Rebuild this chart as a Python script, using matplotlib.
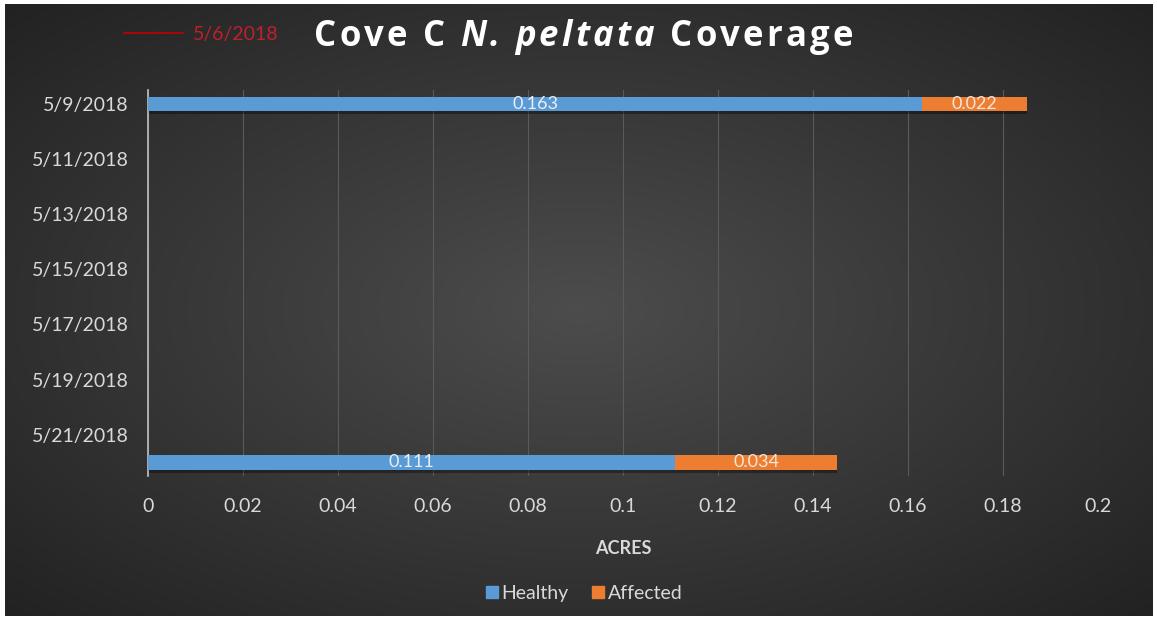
import matplotlib
matplotlib.use("Agg")
import matplotlib.pyplot as plt
import matplotlib.dates as mdates
from matplotlib.lines import Line2D
from matplotlib.patches import Patch
import numpy as np
import datetime as dt

# data
dates = ["2018-05-09", "2018-05-22"]
healthy = [0.163, 0.111]
affected = [0.022, 0.034]
tick_dates = ["2018-05-09", "2018-05-11", "2018-05-13", "2018-05-15",
              "2018-05-17", "2018-05-19", "2018-05-21"]
x_ticks = [0, 0.02, 0.04, 0.06, 0.08, 0.1, 0.12, 0.14, 0.16, 0.18, 0.2]
x_labels = ["0", "0.02", "0.04", "0.06", "0.08", "0.1", "0.12", "0.14", "0.16", "0.18", "0.2"]

plt.rcParams['font.family'] = ['Lato', 'DejaVu Sans']
txt = '#d9d9d9'
blue = '#5b9bd5'
orange = '#ed7d31'

fig = plt.figure(figsize=(11.57, 6.2), dpi=100, facecolor='white')

# dark radial background
bg = fig.add_axes([0.004, 0.006, 0.992, 0.988])
yy, xx = np.mgrid[-1:1:300j, -1:1:600j]
r = np.sqrt((xx * 0.9) ** 2 + (yy * 0.9) ** 2)
shade = 0.30 - 0.17 * np.clip(r, 0, 1.3) / 1.3
bg.imshow(np.dstack([shade, shade, shade]), aspect='auto', extent=[0, 1, 0, 1])
bg.set_axis_off()

ax = fig.add_axes([0.128, 0.232, 0.821, 0.623])
ax.patch.set_alpha(0)

y = mdates.date2num([dt.datetime.strptime(d, "%Y-%m-%d") for d in dates])
h = 0.52

# shadow under bars
tot = [a + b for a, b in zip(healthy, affected)]
ax.barh(y + 0.12, tot, height=h, color='black', alpha=0.35, zorder=2)
ax.barh(y, healthy, height=h, color=blue, zorder=3)
ax.barh(y, affected, left=healthy, height=h, color=orange, zorder=3)

for yi, hv, av in zip(y, healthy, affected):
    ax.text(hv / 2, yi, f"{hv:.3f}", ha='center', va='center', color='#e8eef6',
            fontsize=13, zorder=4)
    ax.text(hv + av / 2, yi, f"{av:.3f}", ha='center', va='center', color='#f5e6da',
            fontsize=13, zorder=4)

ty = mdates.date2num([dt.datetime.strptime(d, "%Y-%m-%d") for d in tick_dates])
ax.set_yticks(ty)
ax.set_yticklabels([f"{d.month}/{d.day}/{d.year}" for d in
                    [dt.datetime.strptime(s, "%Y-%m-%d") for s in tick_dates]])
ax.set_ylim(y[1] + 0.5, y[0] - 0.5)
ax.set_xlim(0, 0.2)
ax.set_xticks(x_ticks)
ax.set_xticklabels(x_labels)
ax.tick_params(axis='both', length=0, colors=txt, labelsize=14)
ax.tick_params(axis='x', pad=16)
ax.tick_params(axis='y', pad=14)
ax.grid(axis='x', color='#5a5a5a', linewidth=0.8, zorder=0)
for s in ['top', 'right', 'bottom']:
    ax.spines[s].set_visible(False)
ax.spines['left'].set_color('#bfbfbf')
ax.spines['left'].set_linewidth(1.2)

ax.set_xlabel("ACRES", color=txt, fontsize=13, fontweight='bold', labelpad=18)

# title, letter by letter for the wide tracking (roman / italic / roman)
parts = [("Cove C ", 'normal'), ("N. peltata", 'italic'), (" Coverage", 'normal')]
track = 3.2
fig.canvas.draw()
rend = fig.canvas.get_renderer()
pieces = []
width = 0
for s, st in parts:
    for ch in s:
        t = fig.text(0, 0.94, ch, color='white', fontsize=25, fontweight='bold',
                     style=st, family='Open Sans', va='center')
        w = t.get_window_extent(rend).width if ch != ' ' else 9
        pieces.append((t, w + track))
        width += w + track
x0 = 585 - width / 2
for t, w in pieces:
    t.set_x(x0 / 1157)
    x0 += w

# stray legend entry at top
fig.legend(handles=[Line2D([0], [0], color='#c00000', lw=1.2)], labels=["5/6/2018"],
           loc='center', bbox_to_anchor=(0.174, 0.945), frameon=False,
           labelcolor='#c0202a', fontsize=14, handlelength=3.0, handletextpad=0.5)

fig.legend(handles=[Patch(color=blue), Patch(color=orange)], labels=["Healthy", "Affected"],
           loc='center', bbox_to_anchor=(0.505, 0.043), ncol=2, frameon=False,
           labelcolor=txt, fontsize=14, handlelength=0.6, handleheight=0.6,
           handletextpad=0.2, columnspacing=1.2)

fig.savefig("out.png", dpi=100, facecolor=fig.get_facecolor())
